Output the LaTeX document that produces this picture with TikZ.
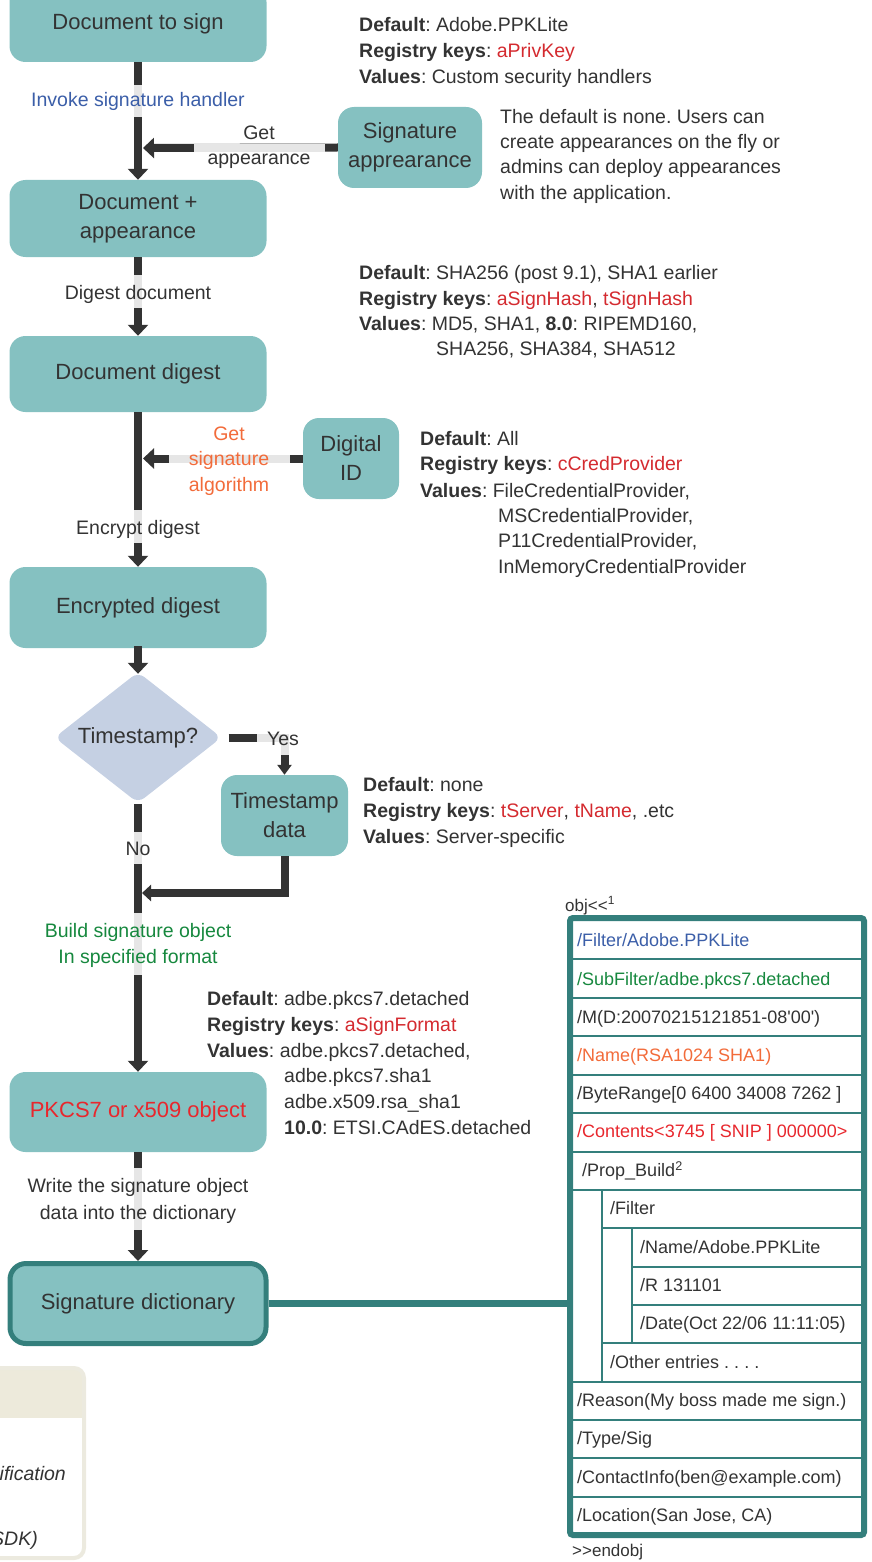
\documentclass[tikz,border=0pt]{standalone}
\usepackage{fontspec}
\newfontfamily\lsans{Liberation Sans}
\usetikzlibrary{arrows.meta,shapes.geometric}
\definecolor{boxteal}{HTML}{85C1C1}
\definecolor{dteal}{HTML}{347F7C}
\definecolor{ink}{HTML}{333333}
\definecolor{flowline}{HTML}{333333}
\definecolor{segl}{HTML}{E6E6E6}
\definecolor{diafill}{HTML}{C5D0E3}
\definecolor{kred}{HTML}{D42A2F}
\definecolor{pred}{HTML}{E8272D}
\definecolor{fblue}{HTML}{3B5EA8}
\definecolor{fgreen}{HTML}{16883E}
\definecolor{forange}{HTML}{F26B3A}
\definecolor{beigefill}{HTML}{EDEADB}
\definecolor{beigeline}{HTML}{ECEADF}
\frenchspacing
\begin{document}
\begin{tikzpicture}[x=1pt,y=-1pt,
 box/.style={rectangle, rounded corners=16pt, fill=boxteal, inner sep=0pt, align=center, text=ink, font=\lsans\fontsize{22}{29}\selectfont},
 flow/.style={draw=flowline, line width=8pt, -{Triangle[length=11pt,width=20pt]}},
 seg/.style={draw=segl, line width=8pt},
 lbl/.style={anchor=base, inner sep=0pt, text=ink, font=\lsans\fontsize{19.5}{25.5}\selectfont},
 txt/.style={anchor=base west, inner sep=0pt, text=ink, font=\lsans\fontsize{19.5}{25.5}\selectfont},
 row/.style={anchor=base west, inner sep=0pt, text=ink, font=\lsans\fontsize{18}{22}\selectfont},
 sep/.style={draw=dteal, line width=1.2pt},
]
\useasboundingbox (0,0) rectangle (871,1562);
\clip (0,0) rectangle (871,1562);

% ---------- boxes ----------
\node[box, minimum width=257pt, minimum height=76pt] (b1) at (138,24) {Document to sign};
\node[box, minimum width=257pt, minimum height=77pt] (b2) at (138,218.5) {Document +\\appearance};
\node[box, minimum width=144pt, minimum height=81pt] (sa) at (410,147.5) {Signature\\apprearance};
\node[box, minimum width=257pt, minimum height=76pt] (b3) at (138,374) {Document digest};
\node[box, minimum width=96pt, minimum height=81pt] (did) at (351,458.5) {Digital\\ID};
\node[box, minimum width=257pt, minimum height=81pt] (b4) at (138,607.5) {Encrypted digest};
\node[diamond, aspect=1.28, fill=diafill, rounded corners=8pt, minimum width=167pt, minimum height=131pt, inner sep=0pt, text=ink, font=\lsans\fontsize{22}{29}\selectfont] (ts) at (138,737.5) {Timestamp?};
\node[box, minimum width=127pt, minimum height=81pt] (td) at (284.5,815.5) {Timestamp\\data};
\node[box, minimum width=257pt, minimum height=80pt, text=pred] (pk) at (138,1112) {PKCS7 or x509 object};
\node[box, draw=dteal, line width=5pt, minimum width=256pt, minimum height=80pt] (sd) at (138,1303.5) {Signature dictionary};

% ---------- free ends ----------
\coordinate (ga) at (143,148);
\coordinate (gs) at (143,458.5);
\coordinate (mg) at (142,893);

% ---------- connectors ----------
\draw[flow] (b1.south) -- (b2.north);
\draw[seg] (138,85) -- (138,117);
\draw[flow] (sa.west) -- (ga);
\draw[seg] (194,148) -- (325,148);
\draw[flow] (b2.south) -- (b3.north);
\draw[seg] (138,275) -- (138,308);
\draw[flow] (did.west) -- (gs);
\draw[seg] (169,458.5) -- (290,458.5);
\draw[flow] (b3.south) -- (b4.north);
\draw[seg] (138,510) -- (138,543);
\draw[flow] ([yshift=2pt]b4.south) -- ([yshift=-2pt]ts.north);
\draw[flow, -{Triangle[length=10pt,width=14pt]}] ([xshift=7pt]ts.east) -| (td.north);
\draw[seg] (257,737.5) -- (284.5,737.5) -- (284.5,755);
\draw[flow] ([yshift=-1pt]ts.south) -- (pk.north);
\draw[seg] (138,832) -- (138,864);
\draw[seg] (138,913) -- (138,975);
\draw[flow, -{Triangle[length=9pt,width=16pt]}] (td.south) |- (mg);
\draw[flow] (pk.south) -- (sd.north);
\draw[seg] (138,1168) -- (138,1230);

% ---------- flow labels ----------
\node[lbl, text=fblue] (l1) at (138,107) {Invoke signature handler};
\node[lbl] (l2a) at (259,140) {Get};
\node[lbl] (l2b) at (259,165) {appearance};
\node[lbl] (l3) at (138,299) {Digest document};
\node[lbl, text=forange] (l4a) at (229,440) {Get};
\node[lbl, text=forange] (l4b) at (229,465) {signature};
\node[lbl, text=forange] (l4c) at (229,491) {algorithm};
\node[lbl] (l5) at (138,534) {Encrypt digest};
\node[lbl] (l6) at (283,745) {Yes};
\node[lbl] (l7) at (138,855) {No};
\node[lbl, text=fgreen] (l8a) at (138,937) {Build signature object};
\node[lbl, text=fgreen] (l8b) at (138,963) {In specified format};
\node[lbl] (l9a) at (138,1192) {Write the signature object};
\node[lbl] (l9b) at (138,1219) {data into the dictionary};

% ---------- side notes ----------
\node[txt] (n1a) at (359,32) {\bfseries Default\mdseries: Adobe.PPKLite};
\node[txt] (n1b) at (359,58) {\bfseries Registry keys\mdseries: \textcolor{kred}{aPrivKey}};
\node[txt] (n1c) at (359,84) {\bfseries Values\mdseries: Custom security handlers};

\node[txt] (p1) at (500,124) {The default is none. Users can};
\node[txt] (p2) at (500,149) {create appearances on the fly or};
\node[txt] (p3) at (500,174) {admins can deploy appearances};
\node[txt] (p4) at (500,200) {with the application.};

\node[txt] (n2a) at (359,279) {\bfseries Default\mdseries: SHA256 (post 9.1), SHA1 earlier};
\node[txt] (n2b) at (359,305) {\bfseries Registry keys\mdseries: \textcolor{kred}{aSignHash}, \textcolor{kred}{tSignHash}};
\node[txt] (n2c) at (359,330) {\bfseries Values\mdseries: MD5, SHA1, \bfseries 8.0\mdseries: RIPEMD160,};
\node[txt] (n2d) at (436,355) {SHA256, SHA384, SHA512};

\node[txt] (n3a) at (420,445) {\bfseries Default\mdseries: All};
\node[txt] (n3b) at (420,470) {\bfseries Registry keys\mdseries: \textcolor{kred}{cCredProvider}};
\node[txt] (n3c) at (420,497) {\bfseries Values\mdseries: FileCredentialProvider,};
\node[txt] (n3d) at (498,522) {MSCredentialProvider,};
\node[txt] (n3e) at (498,547) {P11CredentialProvider,};
\node[txt] (n3f) at (498,573) {InMemoryCredentialProvider};

\node[txt] (n4a) at (363,791) {\bfseries Default\mdseries: none};
\node[txt] (n4b) at (363,817) {\bfseries Registry keys\mdseries: \textcolor{kred}{tServer}, \textcolor{kred}{tName}, .etc};
\node[txt] (n4c) at (363,843) {\bfseries Values\mdseries: Server-specific};

\node[txt] (n5a) at (207,1005) {\bfseries Default\mdseries: adbe.pkcs7.detached};
\node[txt] (n5b) at (207,1031) {\bfseries Registry keys\mdseries: \textcolor{kred}{aSignFormat}};
\node[txt] (n5c) at (207,1057) {\bfseries Values\mdseries: adbe.pkcs7.detached,};
\node[txt] (n5d) at (284,1082) {adbe.pkcs7.sha1};
\node[txt] (n5e) at (284,1108) {adbe.x509.rsa\_sha1};
\node[txt] (n5f) at (284,1134) {\bfseries 10.0\mdseries: ETSI.CAdES.detached};

% ---------- signature dictionary object ----------
\node[draw=dteal, line width=6pt, rounded corners=3pt, minimum width=294pt, minimum height=617pt, inner sep=0pt] (obj) at (717,1226.5) {};
\draw[dteal, line width=7pt] (sd.east) -- (sd.east -| obj.west);
\foreach \yy in {959,998,1036,1075,1113,1152,1190,1382,1420,1458,1497}
  \draw[sep] (573,\yy) -- (861,\yy);
\draw[sep] (602,1228) -- (861,1228);
\draw[sep] (632,1267) -- (861,1267);
\draw[sep] (632,1305) -- (861,1305);
\draw[sep] (602,1343) -- (861,1343);
\draw[sep] (602,1190) -- (602,1382);
\draw[sep] (632,1228) -- (632,1343);

\node[row, text=fblue] (r1) at (577,946.5) {/Filter/Adobe.PPKLite};
\node[row, text=fgreen] (r2) at (577,985.5) {/SubFilter/adbe.pkcs7.detached};
\node[row] (r3) at (577,1023.5) {/M(D:20070215121851-08'00')};
\node[row, text=forange] (r4) at (577,1061.5) {/Name(RSA1024 SHA1)};
\node[row] (r5) at (577,1099.5) {/ByteRange[0 6400 34008 7262 ]};
\node[row, text=pred] (r6) at (577,1137.5) {/Contents<3745 [ SNIP ] 000000>};
\node[row] (r7) at (582,1176.5) {/Prop\_Build\textsuperscript{2}};
\node[row] (r8) at (610,1214.5) {/Filter};
\node[row] (r9) at (640,1253.5) {/Name/Adobe.PPKLite};
\node[row] (r10) at (640,1291.5) {/R 131101};
\node[row] (r11) at (640,1329.5) {/Date(Oct 22/06 11:11:05)};
\node[row] (r12) at (610,1368.5) {/Other entries . . . .};
\node[row] (r13) at (577,1406.5) {/Reason(My boss made me sign.)};
\node[row] (r14) at (577,1444.5) {/Type/Sig};
\node[row] (r15) at (577,1483.5) {/ContactInfo(ben@example.com)};
\node[row] (r16) at (577,1521.5) {/Location(San Jose, CA)};
\node[row, font=\lsans\fontsize{17}{20}\selectfont] (o1) at (565,911) {obj<<\textsuperscript{1}};
\node[row, font=\lsans\fontsize{17}{20}\selectfont] (o2) at (572,1556) {>>endobj};

% ---------- partial box bottom left ----------
\begin{scope}
\clip[rounded corners=10pt] (-60,1368) rectangle (84,1558);
\fill[white] (-60,1368) rectangle (84,1558);
\fill[beigefill] (-60,1368) rectangle (84,1418);
\end{scope}
\draw[beigeline, line width=4pt, rounded corners=10pt] (-60,1368) rectangle (84,1558);
\node[anchor=base east, inner sep=0pt, text=ink, font=\lsans\itshape\fontsize{19.5}{24}\selectfont] (q1) at (66,1480) {ification};
\node[anchor=base east, inner sep=0pt, text=ink, font=\lsans\itshape\fontsize{19.5}{24}\selectfont] (q2) at (38,1545) {SDK)};
\end{tikzpicture}
\end{document}
